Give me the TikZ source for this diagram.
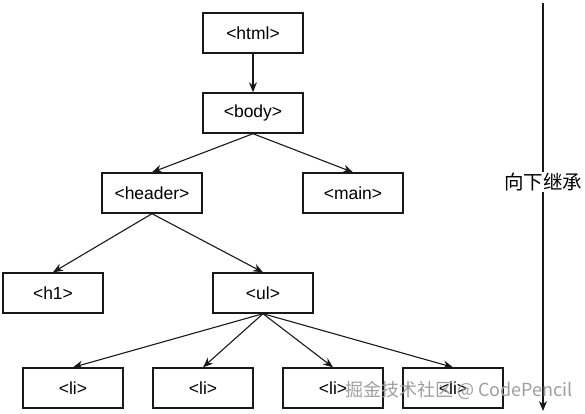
\documentclass[tikz,border=0pt]{standalone}
\usepackage{fontspec}
\setmainfont{Liberation Sans}
\newfontfamily\cjk{Noto Sans CJK SC}
\usetikzlibrary{arrows.meta}
\begin{document}
\begin{tikzpicture}[x=1pt,y=-1pt,
  box/.style={draw=black!90, line width=1.4pt, minimum width=100pt, minimum height=40pt, inner sep=0pt, font=\fontsize{17.5}{20}\selectfont},
  conn/.style={draw=black!90, line width=1.1pt, -{Stealth[length=10pt,width=8pt]}},
  wm/.style={text=black!38, font=\cjk\fontsize{18}{20}\selectfont, inner sep=0pt}]
\useasboundingbox (0,0) rectangle (585,414);
\node[box] (html) at (253,33) {<html>};
\node[box] (body) at (253,113) {<body>};
\node[box] (header) at (152,193) {<header>};
\node[box] (main) at (353,193) {<main>};
\node[box] (h1) at (53,293) {<h1>};
\node[box] (ul) at (263,293) {<ul>};
\node[box] (li1) at (73,388) {<li>};
\node[box] (li2) at (203,388) {<li>};
\node[box] (li3) at (333,388) {<li>};
\node[box] (li4) at (453,388) {<li>};
\draw[conn] (html.south) -- (body.north);
\draw[conn] (body.south) -- (header.north);
\draw[conn] (body.south) -- (main.north);
\draw[conn] (header.south) -- (h1.north);
\draw[conn] (header.south) -- (ul.north);
\draw[conn] (ul.south) -- (li1.north);
\draw[conn] (ul.south) -- (li2.north);
\draw[conn] (ul.south) -- (li3.north);
\draw[conn] (ul.south) -- (li4.north);
\coordinate (top) at (543,3);
\coordinate (bot) at (543,411);
\draw[conn] (top) -- (bot);
\node[fill=white, inner sep=1pt, font=\cjk\fontsize{19.5}{21}\selectfont] (lab) at (543,182) {向下继承};
\node[wm] (wmark) at (459,390) {掘金技术社区 @ CodePencil};
\end{tikzpicture}
\end{document}
